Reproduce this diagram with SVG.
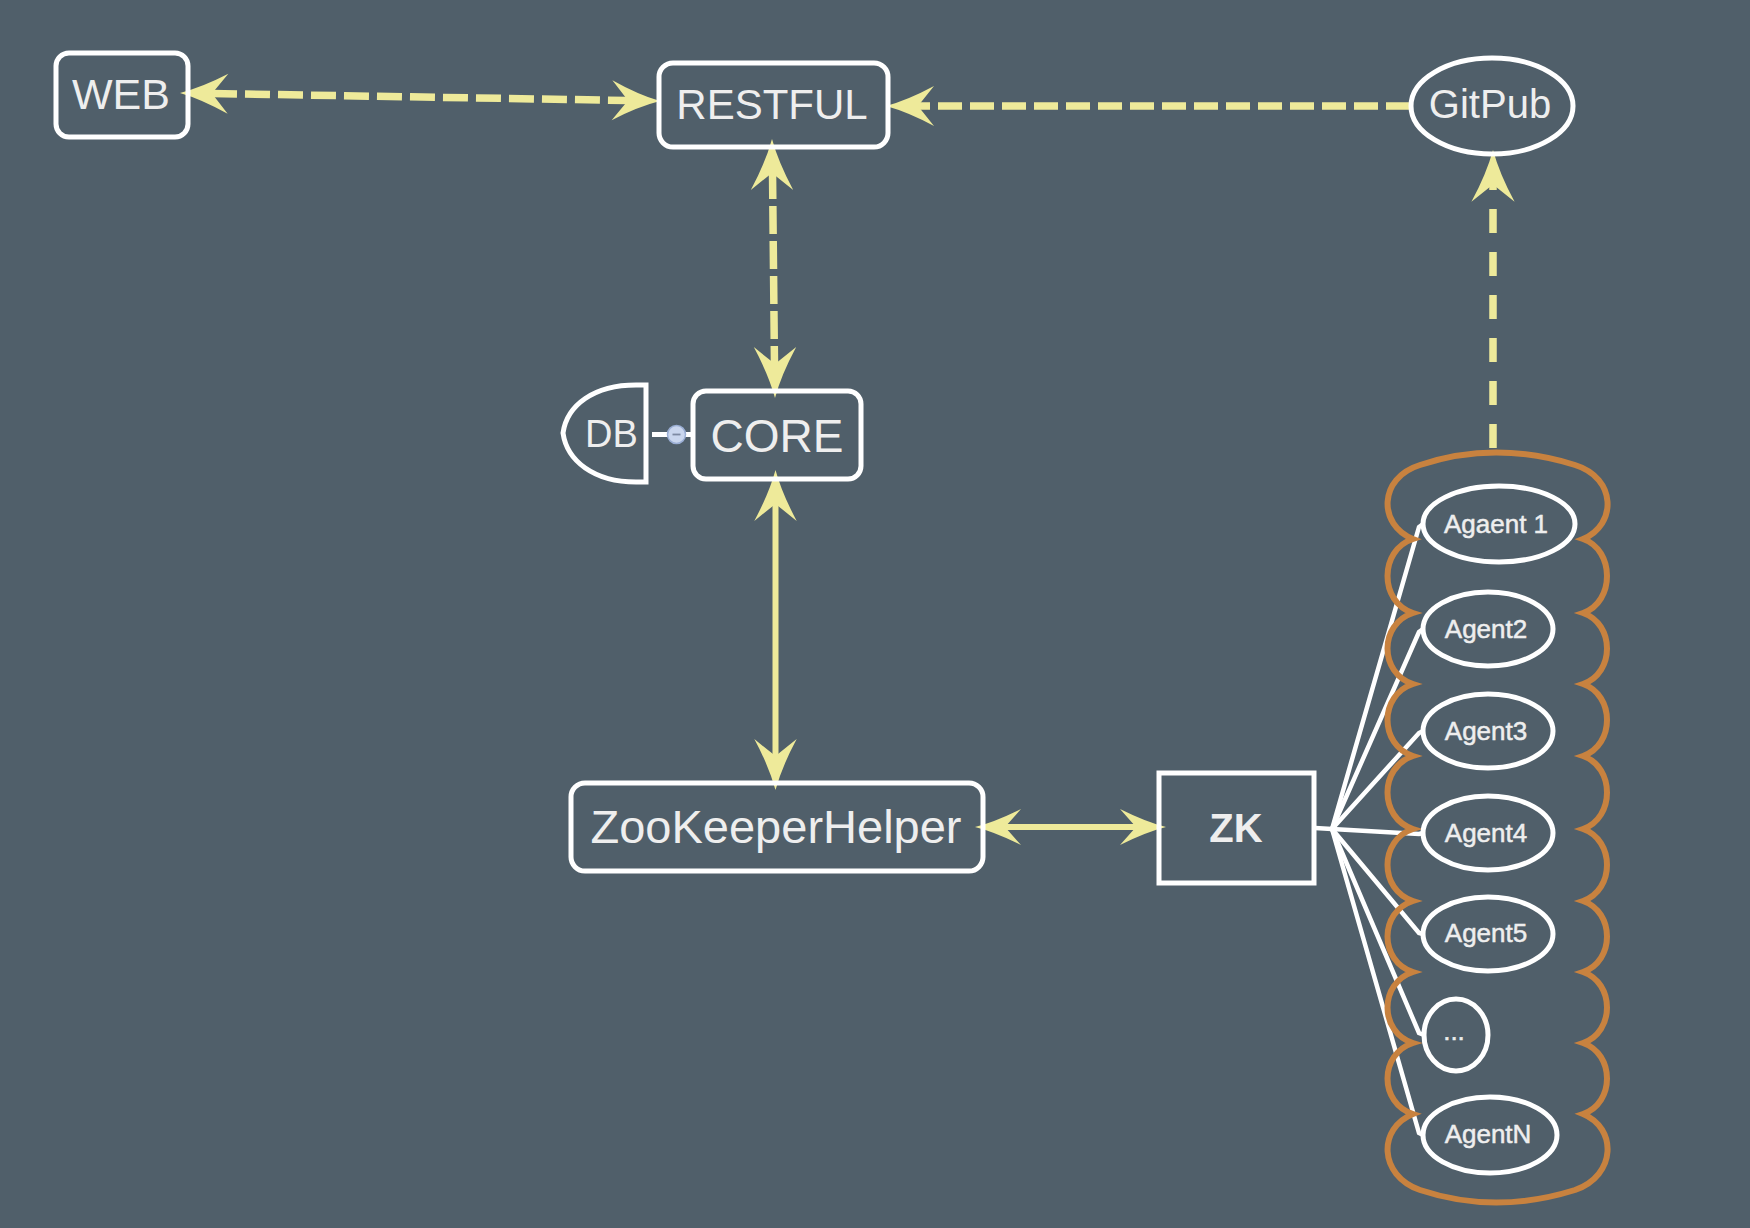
<svg xmlns="http://www.w3.org/2000/svg" xmlns:xlink="http://www.w3.org/1999/xlink" width="1750" height="1228" viewBox="0 0 1750 1228">
<style>
.node{fill:none;stroke:#ffffff;stroke-width:5}
.t{font-family:"Liberation Sans",Arial,sans-serif;fill:#eeeeee;text-anchor:middle}
.ta{stroke:#eeeeee;stroke-width:0.5}
.dash{fill:none;stroke:#eeea9a;stroke-width:7.5}
.solid{fill:none;stroke:#eeea9a;stroke-width:6}
.ah{fill:#eeea9a}
.fan{fill:none;stroke:#ffffff;stroke-width:4.5}
</style>
<defs>
<path id="ah" d="M0 0 Q-22 -6 -48 -20 L-32 0 L-48 20 Q-22 6 0 0 Z"/>
<path id="ahs" d="M0 0 Q-20 -5 -46 -18 L-30 0 L-46 18 Q-20 5 0 0 Z"/>
</defs>
<rect x="0" y="0" width="1750" height="1228" fill="#505f6a"/>

<g id="connectors">
  <!-- WEB <-> RESTFUL -->
  <line class="dash" x1="212" y1="93.5" x2="628" y2="100.5" stroke-dasharray="25 8"/>
  <use href="#ah" class="ah" transform="translate(180,93) rotate(181)"/>
  <use href="#ah" class="ah" transform="translate(660,101) rotate(1)"/>
  <!-- GitPub -> RESTFUL -->
  <line class="dash" x1="1410" y1="106" x2="918" y2="106" stroke-dasharray="24 8"/>
  <use href="#ah" class="ah" transform="translate(886,106) rotate(180)"/>
  <!-- RESTFUL <-> CORE -->
  <line class="dash" x1="772.5" y1="171" x2="774.5" y2="366" stroke-width="6.5" stroke-dasharray="28 7"/>
  <use href="#ah" class="ah" transform="translate(772,139) rotate(-90) scale(1.06)"/>
  <use href="#ah" class="ah" transform="translate(775,398) rotate(90) scale(1.06)"/>
  <!-- Agents -> GitPub -->
  <line class="dash" x1="1493" y1="448" x2="1493" y2="182" stroke-width="7" stroke-dasharray="24 19"/>
  <use href="#ah" class="ah" transform="translate(1493,150) rotate(-90) scale(1.08)"/>
  <!-- CORE <-> ZooKeeperHelper -->
  <line class="solid" x1="775.5" y1="500" x2="775.5" y2="760"/>
  <use href="#ah" class="ah" transform="translate(775.5,470) rotate(-90) scale(1.06)"/>
  <use href="#ah" class="ah" transform="translate(775.5,790) rotate(90) scale(1.06)"/>
  <!-- ZooKeeperHelper <-> ZK -->
  <line class="solid" x1="1004" y1="827" x2="1137" y2="827" stroke-width="7"/>
  <use href="#ahs" class="ah" transform="translate(975,827) rotate(180)"/>
  <use href="#ahs" class="ah" transform="translate(1166,827)"/>
  <!-- DB - CORE -->
  <line x1="652" y1="434.5" x2="693" y2="434.5" stroke="#ffffff" stroke-width="5"/>
  <circle cx="676.5" cy="434.5" r="9" fill="#c9d6ee" stroke="#9aaed4" stroke-width="1.5"/>
  <line x1="672.5" y1="434.5" x2="680.5" y2="434.5" stroke="#7d8aa3" stroke-width="1.8"/>
  <!-- ZK fan -->
  <line class="fan" x1="1315" y1="828" x2="1332" y2="829"/>
  <path class="fan" d="M1332 829 L1419 527 L1423 524"/>
  <path class="fan" d="M1332 829 L1419 632 L1423 629"/>
  <path class="fan" d="M1332 829 L1419 733 L1423 731"/>
  <path class="fan" d="M1332 829 L1419 834 L1423 833"/>
  <path class="fan" d="M1332 829 L1419 933 L1423 934"/>
  <path class="fan" d="M1332 829 L1419 1033 L1424 1035"/>
  <path class="fan" d="M1332 829 L1419 1133 L1423 1135"/>
</g>

<g id="web">
  <rect class="node" x="56" y="53" width="132" height="84" rx="13"/>
  <text class="t" x="121" y="109" font-size="43">WEB</text>
</g>
<g id="restful">
  <rect class="node" x="659" y="63" width="229" height="84" rx="14"/>
  <text class="t" x="772" y="119" font-size="42">RESTFUL</text>
</g>
<g id="gitpub">
  <ellipse class="node" cx="1492" cy="106" rx="81" ry="48"/>
  <text class="t" x="1490" y="118" font-size="40">GitPub</text>
</g>
<g id="core">
  <rect class="node" x="693" y="391" width="168" height="88" rx="13"/>
  <text class="t" x="777" y="452" font-size="46">CORE</text>
</g>
<g id="db">
  <path class="node" d="M646 385 L636 385 C594 385 567 405 563 433 C567 461 594 482 636 482 L646 482 Z"/>
  <text class="t" x="611.5" y="447" font-size="38">DB</text>
</g>
<g id="zookeeperhelper">
  <rect class="node" x="571" y="783" width="412" height="88" rx="14"/>
  <text class="t" x="776" y="843" font-size="47">ZooKeeperHelper</text>
</g>
<g id="zk">
  <rect class="node" x="1159" y="773" width="155" height="110"/>
  <text class="t" x="1236" y="842" font-size="40" font-weight="bold">ZK</text>
</g>
<g id="agents">
  <path fill="none" stroke="#c8823f" stroke-width="6" d="M1413 539 C1378 525 1378 478 1420 465 Q1495 440 1575 465 C1617 478 1617 525 1583 539
  C1615 550 1615 602 1583 613 C1615 624 1615 673 1583 684 C1615 695 1615 745 1583 756 C1615 767 1615 818 1583 829
  C1615 840 1615 890 1583 901 C1615 912 1615 961 1583 972 C1615 983 1615 1032 1583 1043 C1615 1054 1615 1103 1583 1114
  C1617 1128 1617 1175 1575 1190 Q1495 1215 1420 1190 C1378 1175 1378 1128 1413 1114
  C1379 1103 1379 1054 1413 1043 C1379 1032 1379 983 1413 972 C1379 961 1379 912 1413 901 C1379 890 1379 840 1413 829
  C1379 818 1379 767 1413 756 C1379 745 1379 695 1413 684 C1379 673 1379 624 1413 613 C1379 602 1379 550 1413 539 Z"/>
</g>
<g id="agent1">
  <ellipse class="node" cx="1499" cy="524" rx="76" ry="38"/>
  <text class="t ta" x="1496" y="533" font-size="26">Agaent 1</text>
</g>
<g id="agent2">
  <ellipse class="node" cx="1488" cy="629" rx="65" ry="37"/>
  <text class="t ta" x="1486" y="638" font-size="26">Agent2</text>
</g>
<g id="agent3">
  <ellipse class="node" cx="1488" cy="731" rx="65" ry="37"/>
  <text class="t ta" x="1486" y="740" font-size="26">Agent3</text>
</g>
<g id="agent4">
  <ellipse class="node" cx="1488" cy="833" rx="65" ry="37"/>
  <text class="t ta" x="1486" y="842" font-size="26">Agent4</text>
</g>
<g id="agent5">
  <ellipse class="node" cx="1488" cy="934" rx="65" ry="37"/>
  <text class="t ta" x="1486" y="942" font-size="26">Agent5</text>
</g>
<g id="agentdots">
  <ellipse class="node" cx="1456" cy="1035" rx="32" ry="36"/>
  <text class="t ta" x="1454" y="1040" font-size="26">...</text>
</g>
<g id="agentN">
  <ellipse class="node" cx="1490" cy="1135" rx="67" ry="38"/>
  <text class="t ta" x="1488" y="1143" font-size="26">AgentN</text>
</g>
</svg>
